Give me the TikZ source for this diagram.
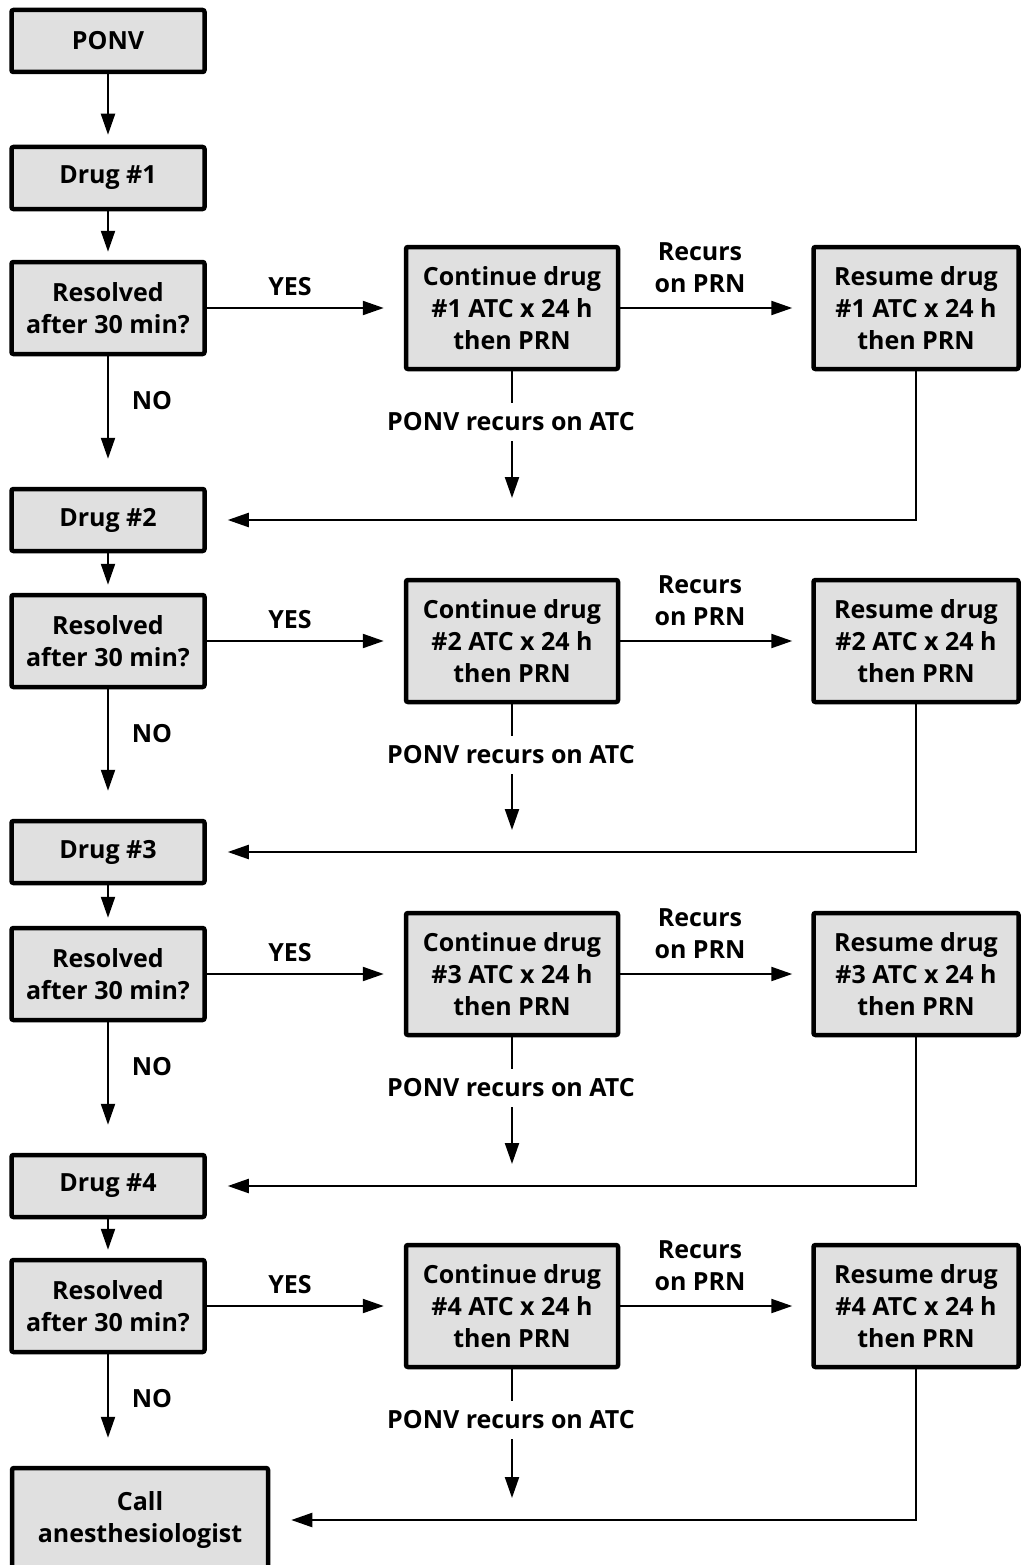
\documentclass[tikz,border=0pt]{standalone}
\usepackage{fontspec}
\setmainfont{Open Sans}
\usetikzlibrary{arrows.meta,calc}
\definecolor{boxgray}{RGB}{224,224,224}
\begin{document}
\begin{tikzpicture}[x=1pt,y=-1pt,
  txt/.style={align=center, inner sep=0pt, font=\fontsize{25}{32}\selectfont\bfseries},
  box/.style={txt, draw, line width=4.5pt, fill=boxgray, rounded corners=2pt},
  drugbox/.style={box, minimum width=193pt, minimum height=62pt},
  resbox/.style={box, minimum width=193pt, minimum height=92pt},
  contbox/.style={box, minimum width=212pt, minimum height=122pt},
  resumebox/.style={box, minimum width=205pt, minimum height=122pt},
  ln/.style={line width=2.2pt},
  arr/.style={line width=2.2pt, -{Triangle[length=21pt,width=14pt]}}]
\useasboundingbox (0,0) rectangle (1023,1565);

\node[drugbox] (ponv) at (108,41) {PONV};
\node[drugbox] (d1) at (108,178) {Drug \#1};
\node[drugbox] (d2) at (108,520) {Drug \#2};
\node[drugbox] (d3) at (108,852) {Drug \#3};
\node[drugbox] (d4) at (108,1186) {Drug \#4};
\node[box, minimum width=256pt, minimum height=104pt] (d5) at (140,1520) {Call\\anesthesiologist};

\draw[arr, shorten >=10pt] (ponv) -- (d1);

\foreach \i/\r/\n in {1/308/2, 2/641/3, 3/974/4, 4/1306/5}{
  \node[resbox] (r\i) at (108,\r) {Resolved\\after 30 min?};
  \node[contbox] (c\i) at (512,\r) {Continue drug\\\#\i{} ATC x 24 h\\then PRN};
  \node[resumebox] (m\i) at (916,\r) {Resume drug\\\#\i{} ATC x 24 h\\then PRN};
  \node[txt] (yes\i) at (290,\r-21) {YES};
  \node[txt] (no\i) at (152,\r+93) {NO};
  \node[txt] (prn\i) at (700,\r-40) {Recurs\\on PRN};
  \node[txt] (atc\i) at (511,\r+114) {PONV recurs on ATC};
  \coordinate (tip\i) at ($(c\i.south |- d\n.east)+(0,-22)$);
  \draw[arr, shorten >=8pt] (d\i) -- (r\i);
  \draw[arr, shorten >=20pt] (r\i) -- (c\i);
  \draw[arr, shorten >=19pt] (c\i) -- (m\i);
  \draw[arr, shorten >=28pt] (r\i.south) -- (r\i.south |- d\n.north);
  \draw[ln, shorten >=10pt] (c\i.south) -- (c\i.south |- atc\i.north);
  \draw[arr, shorten <=10pt] (c\i.south |- atc\i.south) -- (tip\i);
  \draw[arr, shorten >=21pt] (m\i.south) |- (d\n.east);
}
\end{tikzpicture}
\end{document}
